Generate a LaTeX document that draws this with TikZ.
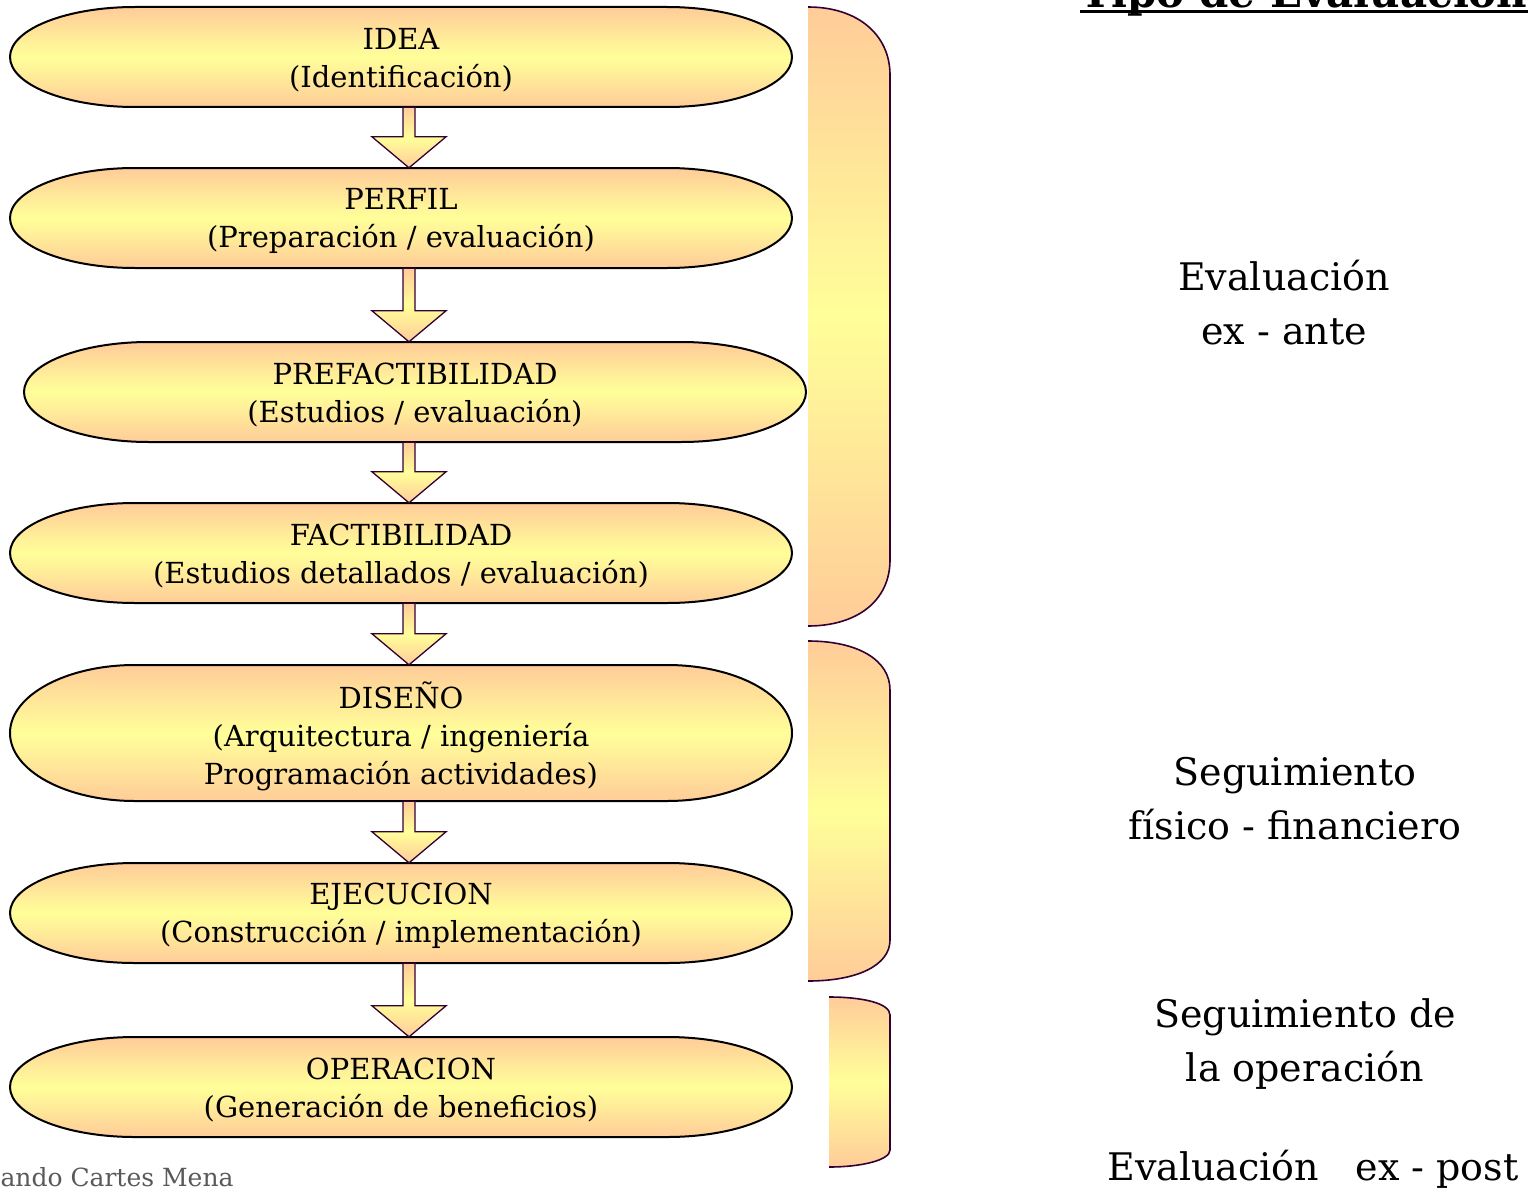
\documentclass[tikz,border=0pt]{standalone}
\usepackage{fontspec}
\setmainfont{DejaVu Serif}
\usepackage{tikz}
\usetikzlibrary{calc}
\definecolor{durazno}{RGB}{255,204,153}
\definecolor{amarillo}{RGB}{255,255,153}
\definecolor{morado}{RGB}{51,0,51}
\definecolor{gris}{RGB}{89,89,89}
% etapa: [media altura]{nombre}{centro}{texto}
\newcommand*{\etapa}[4][50]{%
  \path[fondo, shift={(#3)}] (-266,-#1) -- (266,-#1) arc[start angle=-90, end angle=90, x radius=125, y radius=#1]
    -- (-266,#1) arc[start angle=90, end angle=270, x radius=125, y radius=#1] -- cycle;
  \node[etapa, minimum height=2*#1] (#2) at ($(#3)+(0,3)$) {#4};}
% flecha de bloque entre dos etapas
\newcommand*{\flecha}[2]{%
  \coordinate (#1-sal) at ($(eje |- #1.south)+(0,-3)$);
  \coordinate (#1-pun) at ($(eje |- #2.north)+(0,-3)$);
  \path[flechab] ($(#1-sal)+(-6,0)$) -- ($(#1-pun)+(-6,-31)$) -- ($(#1-pun)+(-37,-31)$)
    -- (#1-pun) -- ($(#1-pun)+(37,-31)$) -- ($(#1-pun)+(6,-31)$) -- ($(#1-sal)+(6,0)$) -- cycle;}

\begin{document}
\begin{tikzpicture}[x=1pt, y=-1pt,
    fondo/.style={draw=black, line width=2pt, top color=durazno, bottom color=durazno, middle color=amarillo},
    etapa/.style={rectangle, minimum width=783, inner sep=0pt, align=center, font=\fontsize{29}{38}\selectfont},
    flechab/.style={draw=morado, line width=1.3pt, top color=durazno, bottom color=durazno, middle color=amarillo},
    llave/.style={draw=morado, line width=1.6pt, top color=durazno, bottom color=durazno, middle color=amarillo},
    tipo/.style={align=center, font=\fontsize{38}{54}\selectfont}]
            \useasboundingbox (0,0) rectangle (1531,1188);
            \coordinate (eje) at (409,0);
            % etapas del proyecto
            \etapa{idea}{401,57}{IDEA\\(Identificación)}
            \etapa{perfil}{401,218}{PERFIL\\(Preparación / evaluación)}
            \etapa{prefac}{415,392}{PREFACTIBILIDAD\\(Estudios / evaluación)}
            \etapa{factib}{401,553}{FACTIBILIDAD\\(Estudios detallados / evaluación)}
            \etapa[68]{diseno}{401,733}{DISEÑO\\(Arquitectura / ingeniería\\Programación actividades)}
            \etapa{ejecucion}{401,913}{EJECUCION\\(Construcción / implementación)}
            \etapa{operacion}{401,1087}{OPERACION\\(Generación de beneficios)}
            \flecha{idea}{perfil}
            \flecha{perfil}{prefac}
            \flecha{prefac}{factib}
            \flecha{factib}{diseno}
            \flecha{diseno}{ejecucion}
            \flecha{ejecucion}{operacion}
            % llaves
            \path[llave] (808,7) .. controls (858,7) and (890,35) .. (890,75) -- (890,560)
              .. controls (890,600) and (858,626) .. (808,626);
            \path[llave] (808,641) .. controls (858,641) and (890,660) .. (890,690) -- (890,940)
              .. controls (890,965) and (858,981) .. (808,981);
            \path[llave] (829,997) .. controls (862,997) and (890,1003) .. (890,1015) -- (890,1150)
              .. controls (890,1160) and (862,1167) .. (829,1167);
            % tipo de evaluacion
            \node[tipo, font=\fontsize{42}{54}\bfseries, anchor=base west, inner xsep=0pt] (titulo) at (1080,8) {Tipo de Evaluación};
            \draw[line width=3pt] ($(titulo.base west)+(0,4)$) -- ($(titulo.base east)+(0,4)$);
            \node[tipo] (exante) at (1284,303) {Evaluación\\ex - ante};
            \node[tipo] (seguim) at (1295,799) {Seguimiento\\físico - financiero};
            \node[tipo] (operac) at (1305,1044) {Seguimiento de\\la operación};
            \node[tipo, anchor=base east] (expost) at (1522,1180) {Evaluación~~~ex - post};
            \node[anchor=base west, text=gris, font=\fontsize{25}{30}\selectfont] (autor) at (-3,1186) {ando Cartes Mena};
        \end{tikzpicture}
\end{document}
